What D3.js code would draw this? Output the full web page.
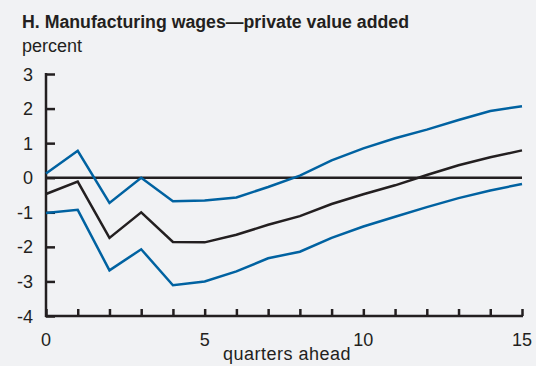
<!DOCTYPE html>
<html>
<head>
<meta charset="utf-8">
<script src="https://cdn.jsdelivr.net/npm/d3@7"></script>
<style>
  html, body { margin: 0; padding: 0; background: #f1f2f4; }
  svg { display: block; font-family: "Liberation Sans", Arial, sans-serif; }
</style>
</head>
<body>
<svg id="chart" width="536" height="366"></svg>
<script>
// Quarters after the shock
const quarters = d3.range(0, 16);
// Point estimate of the response (percent)
const median = [-0.47, -0.11, -1.74, -1.0, -1.86, -1.87, -1.65, -1.36, -1.11, -0.76, -0.48, -0.22, 0.08, 0.36, 0.59, 0.79];
// Upper confidence band
const upper = [0.12, 0.78, -0.73, 0.0, -0.68, -0.66, -0.57, -0.27, 0.06, 0.5, 0.85, 1.14, 1.39, 1.67, 1.93, 2.07];
// Lower confidence band
const lower = [-1.02, -0.93, -2.68, -2.07, -3.11, -3.0, -2.71, -2.33, -2.14, -1.74, -1.41, -1.13, -0.85, -0.59, -0.37, -0.18];

const yTicks = [3, 2, 1, 0, -1, -2, -3, -4];
const xLabels = [0, 5, 10, 15];

const title = "H. Manufacturing wages\u2014private value added";
const unit = "percent";
const xTitle = "quarters ahead";

const ink = "#231f20";
const blue = "#0062a1";

const svg = d3.select("#chart");

const x = d3.scaleLinear().domain([0, 15]).range([46, 522]);
const y = d3.scaleLinear().domain([-4, 3]).range([316, 74]);

// Title and unit
svg.append("text").attr("x", 22).attr("y", 28)
  .attr("font-size", 18).attr("font-weight", "bold").attr("fill", ink)
  .attr("textLength", 387).attr("lengthAdjust", "spacingAndGlyphs")
  .text(title);
svg.append("text").attr("x", 22).attr("y", 52)
  .attr("font-size", 18).attr("fill", ink)
  .text(unit);

// Y axis: inward ticks, labels on the left
const yAxis = d3.axisRight(y).tickValues(yTicks).tickSize(9).tickFormat("");
const yg = svg.append("g").attr("transform", `translate(${x(0)},0)`).call(yAxis);
yg.select(".domain").remove();
yg.selectAll(".tick line").attr("stroke", ink).attr("stroke-width", 2.5);
svg.append("line").attr("x1", x(0)).attr("x2", x(0)).attr("y1", y(3) - 1).attr("y2", y(-4) + 1)
  .attr("stroke", ink).attr("stroke-width", 2.5);
svg.append("g").selectAll("text").data(yTicks).join("text")
  .attr("x", 33).attr("y", d => y(d) + 6.5)
  .attr("text-anchor", "end").attr("font-size", 18).attr("fill", ink)
  .text(d => d);

// X axis: short ticks pointing up at every quarter
const xAxis = d3.axisTop(x).tickValues(quarters).tickSize(7).tickFormat("");
const xg = svg.append("g").attr("transform", `translate(0,${y(-4)})`).call(xAxis);
xg.select(".domain").remove();
xg.selectAll(".tick line").attr("stroke", ink).attr("stroke-width", 2.5);
svg.append("line").attr("x1", x(0) - 1).attr("x2", x(15) + 1).attr("y1", y(-4)).attr("y2", y(-4))
  .attr("stroke", ink).attr("stroke-width", 2.5);
svg.append("g").selectAll("text").data(xLabels).join("text")
  .attr("x", d => x(d)).attr("y", 346)
  .attr("text-anchor", "middle").attr("font-size", 18).attr("fill", ink)
  .text(d => d);
svg.append("text").attr("x", 287).attr("y", 360)
  .attr("text-anchor", "middle").attr("font-size", 18).attr("letter-spacing", 0.5).attr("fill", ink)
  .text(xTitle);

// Zero line
svg.append("line").attr("x1", x(0)).attr("x2", x(15)).attr("y1", y(0)).attr("y2", y(0))
  .attr("stroke", ink).attr("stroke-width", 2.5);

// Response lines
const line = d3.line().x((d, i) => x(quarters[i])).y(d => y(d));
[[upper, blue], [lower, blue], [median, ink]].forEach(([vals, col]) => {
  svg.append("path").datum(vals).attr("d", line)
    .attr("fill", "none").attr("stroke", col).attr("stroke-width", 2.5)
    .attr("stroke-linejoin", "miter");
});
</script>
</body>
</html>
